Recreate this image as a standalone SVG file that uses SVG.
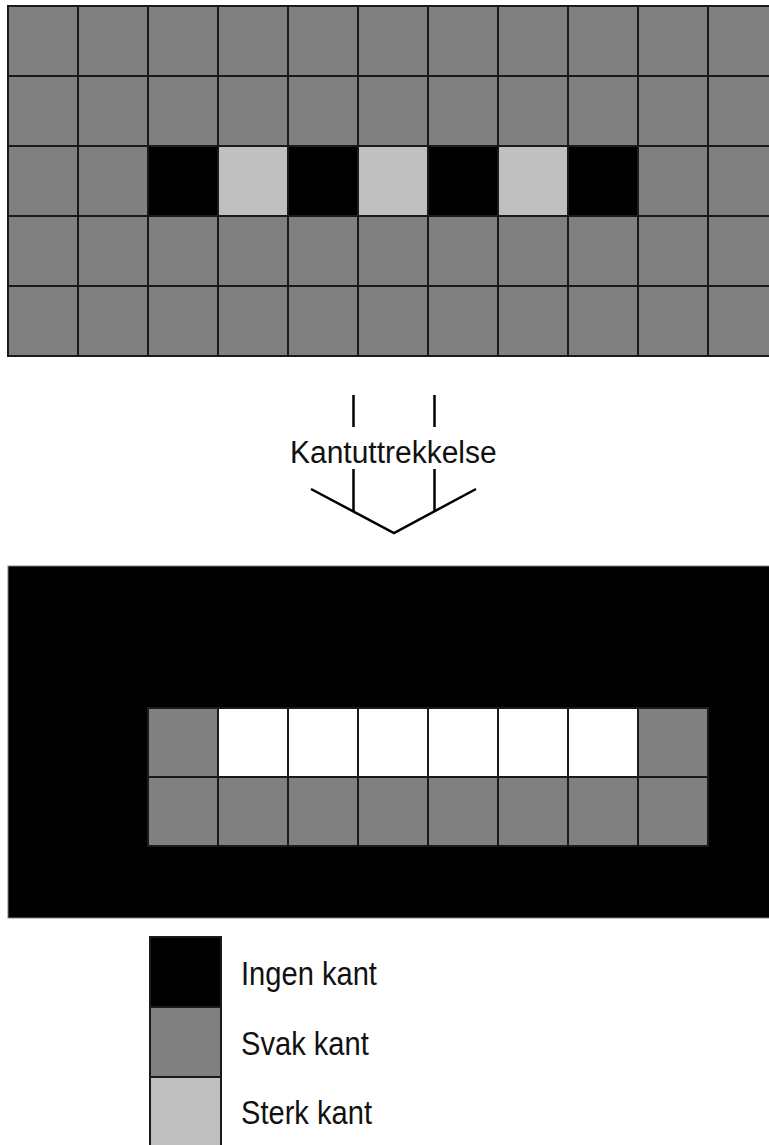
<svg xmlns="http://www.w3.org/2000/svg" width="769" height="1145" viewBox="0 0 769 1145">
<style>
.g{fill:#808080;stroke:#1a1a1a;stroke-width:2}
.k{fill:#000000;stroke:#1a1a1a;stroke-width:2}
.l{fill:#c0c0c0;stroke:#1a1a1a;stroke-width:2}
.w{fill:#ffffff;stroke:#1a1a1a;stroke-width:2}
.t{font-family:"Liberation Sans",Arial,sans-serif;font-size:30px;fill:#111}
.ln{stroke:#000;stroke-width:2.5;fill:none;stroke-linecap:butt}
</style>
<rect width="769" height="1145" fill="#ffffff"/>
<g id="input-grid">
<rect class="g" x="8" y="6" width="70" height="70"/><rect class="g" x="78" y="6" width="70" height="70"/><rect class="g" x="148" y="6" width="70" height="70"/><rect class="g" x="218" y="6" width="70" height="70"/><rect class="g" x="288" y="6" width="70" height="70"/><rect class="g" x="358" y="6" width="70" height="70"/><rect class="g" x="428" y="6" width="70" height="70"/><rect class="g" x="498" y="6" width="70" height="70"/><rect class="g" x="568" y="6" width="70" height="70"/><rect class="g" x="638" y="6" width="70" height="70"/><rect class="g" x="708" y="6" width="70" height="70"/>
<rect class="g" x="8" y="76" width="70" height="70"/><rect class="g" x="78" y="76" width="70" height="70"/><rect class="g" x="148" y="76" width="70" height="70"/><rect class="g" x="218" y="76" width="70" height="70"/><rect class="g" x="288" y="76" width="70" height="70"/><rect class="g" x="358" y="76" width="70" height="70"/><rect class="g" x="428" y="76" width="70" height="70"/><rect class="g" x="498" y="76" width="70" height="70"/><rect class="g" x="568" y="76" width="70" height="70"/><rect class="g" x="638" y="76" width="70" height="70"/><rect class="g" x="708" y="76" width="70" height="70"/>
<rect class="g" x="8" y="146" width="70" height="70"/><rect class="g" x="78" y="146" width="70" height="70"/><rect class="k" x="148" y="146" width="70" height="70"/><rect class="l" x="218" y="146" width="70" height="70"/><rect class="k" x="288" y="146" width="70" height="70"/><rect class="l" x="358" y="146" width="70" height="70"/><rect class="k" x="428" y="146" width="70" height="70"/><rect class="l" x="498" y="146" width="70" height="70"/><rect class="k" x="568" y="146" width="70" height="70"/><rect class="g" x="638" y="146" width="70" height="70"/><rect class="g" x="708" y="146" width="70" height="70"/>
<rect class="g" x="8" y="216" width="70" height="70"/><rect class="g" x="78" y="216" width="70" height="70"/><rect class="g" x="148" y="216" width="70" height="70"/><rect class="g" x="218" y="216" width="70" height="70"/><rect class="g" x="288" y="216" width="70" height="70"/><rect class="g" x="358" y="216" width="70" height="70"/><rect class="g" x="428" y="216" width="70" height="70"/><rect class="g" x="498" y="216" width="70" height="70"/><rect class="g" x="568" y="216" width="70" height="70"/><rect class="g" x="638" y="216" width="70" height="70"/><rect class="g" x="708" y="216" width="70" height="70"/>
<rect class="g" x="8" y="286" width="70" height="70"/><rect class="g" x="78" y="286" width="70" height="70"/><rect class="g" x="148" y="286" width="70" height="70"/><rect class="g" x="218" y="286" width="70" height="70"/><rect class="g" x="288" y="286" width="70" height="70"/><rect class="g" x="358" y="286" width="70" height="70"/><rect class="g" x="428" y="286" width="70" height="70"/><rect class="g" x="498" y="286" width="70" height="70"/><rect class="g" x="568" y="286" width="70" height="70"/><rect class="g" x="638" y="286" width="70" height="70"/><rect class="g" x="708" y="286" width="70" height="70"/>
</g>
<g id="connectors">
<line class="ln" x1="353.5" y1="395" x2="353.5" y2="427"/>
<line class="ln" x1="434.5" y1="395" x2="434.5" y2="427"/>
<line class="ln" x1="353.5" y1="469" x2="353.5" y2="512"/>
<line class="ln" x1="434.5" y1="469" x2="434.5" y2="512"/>
<polyline class="ln" points="311,489 394,533 476,489"/>
</g>
<g id="label-kantuttrekkelse">
<text class="t" transform="translate(290,463) scale(1,1.07)" x="0" y="0">Kantuttrekkelse</text>
</g>
<g id="output-grid">
<rect x="8" y="566" width="770" height="352" fill="#000000" stroke="#808080" stroke-width="1"/>
<rect class="g" x="148" y="708" width="70" height="69"/><rect class="w" x="218" y="708" width="70" height="69"/><rect class="w" x="288" y="708" width="70" height="69"/><rect class="w" x="358" y="708" width="70" height="69"/><rect class="w" x="428" y="708" width="70" height="69"/><rect class="w" x="498" y="708" width="70" height="69"/><rect class="w" x="568" y="708" width="70" height="69"/><rect class="g" x="638" y="708" width="70" height="69"/>
<rect class="g" x="148" y="777" width="70" height="69"/><rect class="g" x="218" y="777" width="70" height="69"/><rect class="g" x="288" y="777" width="70" height="69"/><rect class="g" x="358" y="777" width="70" height="69"/><rect class="g" x="428" y="777" width="70" height="69"/><rect class="g" x="498" y="777" width="70" height="69"/><rect class="g" x="568" y="777" width="70" height="69"/><rect class="g" x="638" y="777" width="70" height="69"/>
</g>
<g id="legend-ingen">
<rect class="k" x="150" y="937" width="71" height="70"/>
<text class="t" transform="translate(241,985) scale(0.97,1.1)" x="0" y="0">Ingen kant</text>
</g>
<g id="legend-svak">
<rect class="g" x="150" y="1007" width="71" height="70"/>
<text class="t" transform="translate(241,1055) scale(0.97,1.1)" x="0" y="0">Svak kant</text>
</g>
<g id="legend-sterk">
<rect class="l" x="150" y="1077" width="71" height="72"/>
<text class="t" transform="translate(241,1124) scale(0.97,1.1)" x="0" y="0">Sterk kant</text>
</g>
</svg>
